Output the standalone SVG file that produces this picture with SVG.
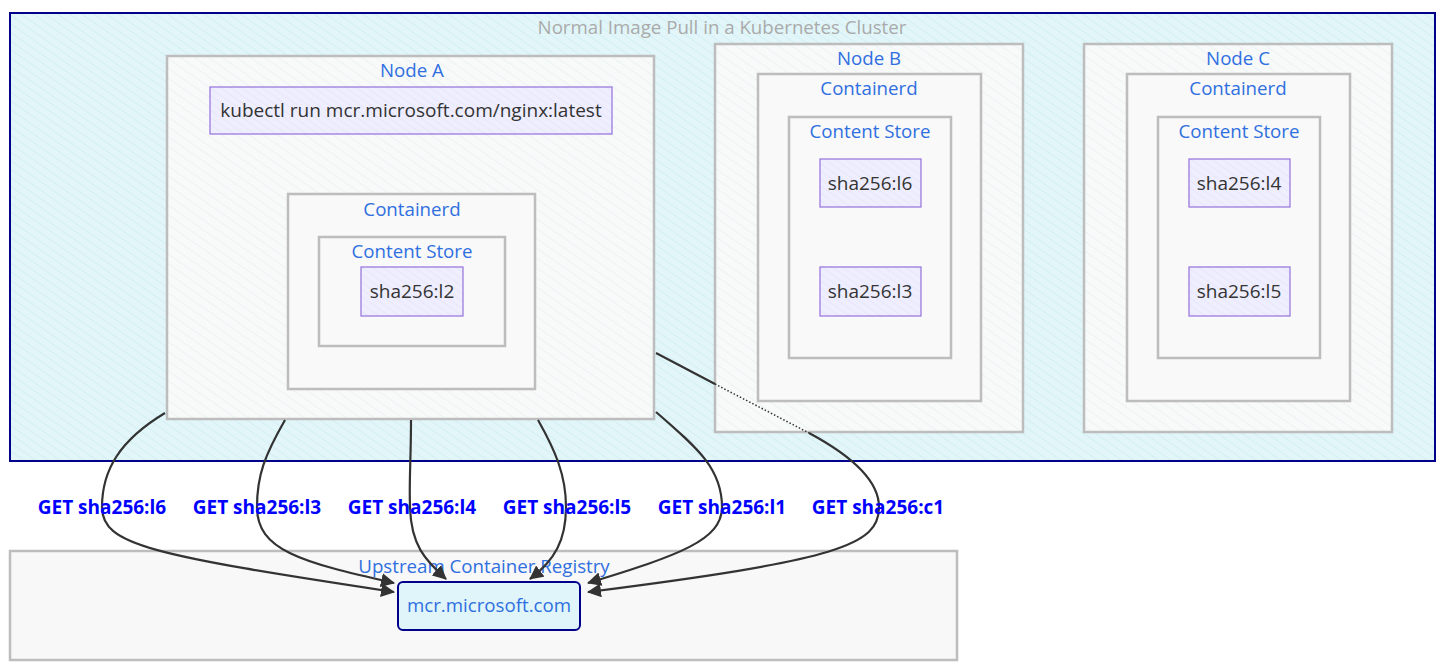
<svg xmlns="http://www.w3.org/2000/svg" width="1449" height="666" viewBox="0 0 1449 666">
<defs>
  <pattern id="hatchCyan" width="7" height="7" patternUnits="userSpaceOnUse" patternTransform="rotate(-55)">
    <rect width="7" height="7" fill="#e2f6f9"/>
    <line x1="0" y1="0" x2="0" y2="7" stroke="#c2e8ee" stroke-width="1"/>
  </pattern>
  <pattern id="hatchGray" width="8" height="8" patternUnits="userSpaceOnUse" patternTransform="rotate(-55)">
    <rect width="8" height="8" fill="#f8f9f9"/>
    <line x1="0" y1="0" x2="0" y2="8" stroke="#e1eef1" stroke-width="1"/>
  </pattern>
  <pattern id="hatchPurple" width="6" height="6" patternUnits="userSpaceOnUse" patternTransform="rotate(-55)">
    <rect width="6" height="6" fill="#efeefe"/>
    <line x1="0" y1="0" x2="0" y2="6" stroke="#e0def8" stroke-width="1"/>
  </pattern>
  <marker id="arrow" viewBox="0 0 14 14" refX="13" refY="7" markerWidth="14" markerHeight="14" markerUnits="userSpaceOnUse" orient="auto">
    <path d="M0,0 L14,7 L0,14 z" fill="#333"/>
  </marker>
</defs>
<style>
  .cluster { fill: url(#hatchCyan); stroke: #00008b; stroke-width: 2; }
  .node { fill: url(#hatchGray); stroke: #bdbdbd; stroke-width: 2.5; }
  .inner { fill: #f9f9f9; stroke: #bdbdbd; stroke-width: 2.5; }
  .layer { fill: url(#hatchPurple); stroke: #9370db; stroke-width: 1.2; }
  .title { font-family: "Open Sans", "DejaVu Sans", sans-serif; font-size: 18.7px; fill: #aaaaaa; text-anchor: middle; }
  .label { font-family: "Open Sans", "DejaVu Sans", sans-serif; font-size: 18.7px; fill: #2f6fe0; text-anchor: middle; }
  .txt { font-family: "Open Sans", "DejaVu Sans", sans-serif; font-size: 19px; fill: #333; text-anchor: middle; }
  .elabel { font-family: "Open Sans", "DejaVu Sans", sans-serif; font-size: 19px; font-weight: bold; fill: #0000ff; text-anchor: middle; }
  .edge { fill: none; stroke: #333; stroke-width: 2.2; }
  .dotted { fill: none; stroke: #333; stroke-width: 1.5; stroke-dasharray: 1.5 2; }
</style>

<g id="cluster-k8s">
  <rect class="cluster" x="10" y="13" width="1425" height="448"/>
  <text class="title" x="722" y="34">Normal Image Pull in a Kubernetes Cluster</text>
</g>

<g id="node-a">
  <rect class="node" x="167" y="56" width="487" height="363"/>
  <text class="label" x="412" y="77">Node A</text>
</g>
<g id="kubectl">
  <rect class="layer" x="210" y="87" width="402" height="47"/>
  <text class="txt" x="411" y="117">kubectl run mcr.microsoft.com/nginx:latest</text>
</g>
<g id="containerd-a">
  <rect class="inner" x="288" y="194" width="247" height="195"/>
  <text class="label" x="412" y="216">Containerd</text>
</g>
<g id="store-a">
  <rect class="inner" x="319" y="237" width="186" height="109"/>
  <text class="label" x="412" y="258">Content Store</text>
</g>
<g id="l2">
  <rect class="layer" x="361" y="267" width="102" height="49"/>
  <text class="txt" x="412" y="298">sha256:l2</text>
</g>

<g id="node-b">
  <rect class="node" x="715" y="44" width="308" height="388"/>
  <text class="label" x="869" y="65">Node B</text>
</g>
<g id="containerd-b">
  <rect class="inner" x="758" y="74" width="223" height="327"/>
  <text class="label" x="869" y="95">Containerd</text>
</g>
<g id="store-b">
  <rect class="inner" x="789" y="117" width="162" height="241"/>
  <text class="label" x="870" y="138">Content Store</text>
</g>
<g id="l6">
  <rect class="layer" x="820" y="159" width="101" height="48"/>
  <text class="txt" x="870" y="190">sha256:l6</text>
</g>
<g id="l3">
  <rect class="layer" x="820" y="267" width="101" height="49"/>
  <text class="txt" x="870" y="298">sha256:l3</text>
</g>

<g id="node-c">
  <rect class="node" x="1084" y="44" width="308" height="388"/>
  <text class="label" x="1238" y="65">Node C</text>
</g>
<g id="containerd-c">
  <rect class="inner" x="1127" y="74" width="223" height="327"/>
  <text class="label" x="1238" y="95">Containerd</text>
</g>
<g id="store-c">
  <rect class="inner" x="1158" y="117" width="162" height="241"/>
  <text class="label" x="1239" y="138">Content Store</text>
</g>
<g id="l4">
  <rect class="layer" x="1189" y="159" width="101" height="48"/>
  <text class="txt" x="1239" y="190">sha256:l4</text>
</g>
<g id="l5">
  <rect class="layer" x="1189" y="267" width="101" height="49"/>
  <text class="txt" x="1239" y="298">sha256:l5</text>
</g>

<g id="cluster-registry">
  <rect x="10" y="551" width="947" height="109" fill="#f8f8f8" stroke="#bdbdbd" stroke-width="2.5"/>
  <text class="label" x="484" y="573">Upstream Container Registry</text>
</g>

<g id="connectors">
  <path class="edge" d="M165,413 C120,440 102,470 102,507 C102,545 150,555 394,592" marker-end="url(#arrow)"/>
  <path class="edge" d="M285,420 C265,455 257,475 257,507 C257,550 300,562 394,583" marker-end="url(#arrow)"/>
  <path class="edge" d="M411,420 C411,460 409,480 410,507 C411,545 425,560 446,579" marker-end="url(#arrow)"/>
  <path class="edge" d="M538,420 C555,450 566,475 566,507 C566,540 555,560 530,579" marker-end="url(#arrow)"/>
  <path class="edge" d="M656,412 C700,450 722,470 722,507 C722,540 680,555 588,583" marker-end="url(#arrow)"/>
  <path class="edge" d="M656,353 L715,384"/>
  <path class="dotted" d="M715,384 L809,433"/>
  <path class="edge" d="M809,433 C850,455 879,480 879,507 C879,545 840,560 588,592" marker-end="url(#arrow)"/>
  <text class="elabel" x="102" y="514">GET sha256:l6</text>
  <text class="elabel" x="257" y="514">GET sha256:l3</text>
  <text class="elabel" x="412" y="514">GET sha256:l4</text>
  <text class="elabel" x="567" y="514">GET sha256:l5</text>
  <text class="elabel" x="722" y="514">GET sha256:l1</text>
  <text class="elabel" x="878" y="514">GET sha256:c1</text>
</g>

<g id="mcr">
  <rect x="398" y="582" width="182" height="48" rx="5" fill="#dff5f9" stroke="#00008b" stroke-width="2"/>
  <text class="label" x="489" y="612">mcr.microsoft.com</text>
</g>
</svg>
